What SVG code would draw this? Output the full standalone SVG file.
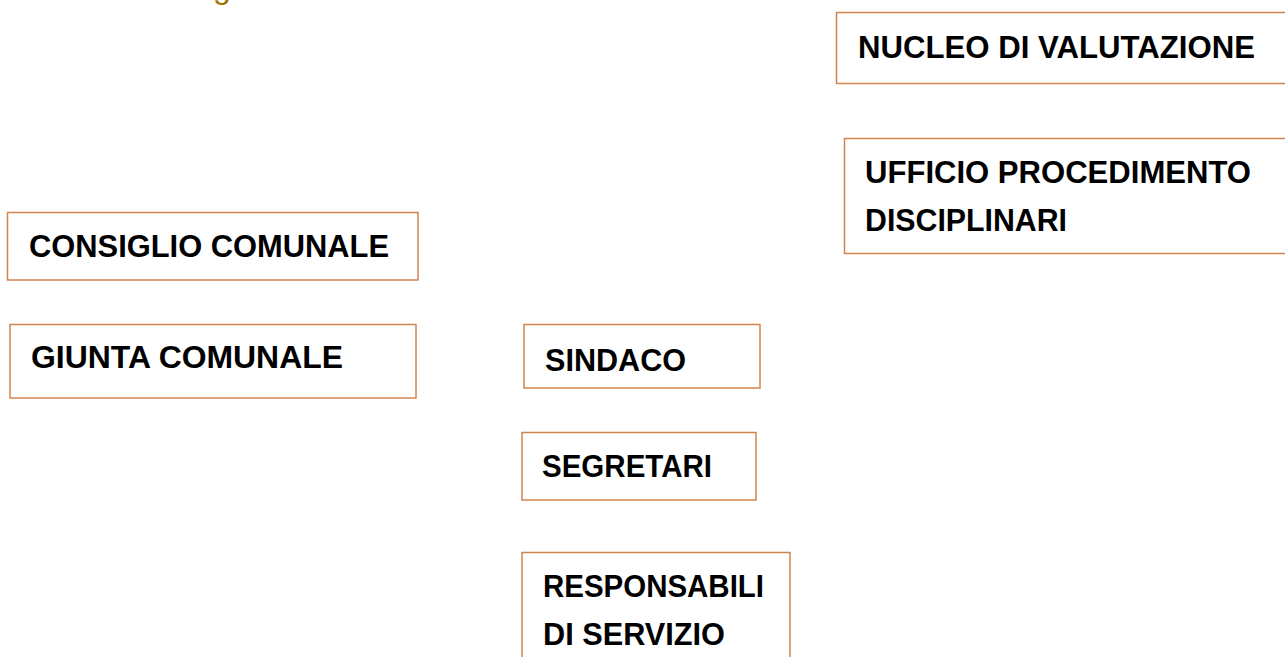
<svg xmlns="http://www.w3.org/2000/svg" width="1285" height="657" viewBox="0 0 1285 657">
<style>
.box{fill:#ffffff;stroke:#D4844F;stroke-width:1.5}
.t{font-family:"Liberation Sans",Arial,sans-serif;font-weight:bold;font-size:31px;fill:#000000}
.h{font-family:"Liberation Sans",Arial,sans-serif;font-size:32px;fill:#9C7000}
</style>
<rect width="1285" height="657" fill="#ffffff"/>
<text class="h" x="213" y="-2">g</text>
<g id="nucleo">
<rect class="box" x="836.5" y="12.5" width="460" height="71"/>
<text class="t" x="858" y="58" textLength="397" lengthAdjust="spacingAndGlyphs">NUCLEO DI VALUTAZIONE</text>
</g>
<g id="ufficio">
<rect class="box" x="844.5" y="138.5" width="460" height="115"/>
<text class="t" x="865" y="183" textLength="386" lengthAdjust="spacingAndGlyphs">UFFICIO PROCEDIMENTO</text>
<text class="t" x="865" y="231" textLength="202" lengthAdjust="spacingAndGlyphs">DISCIPLINARI</text>
</g>
<g id="consiglio">
<rect class="box" x="7.5" y="212.5" width="410.5" height="67.5"/>
<text class="t" x="29" y="257" textLength="360" lengthAdjust="spacingAndGlyphs">CONSIGLIO COMUNALE</text>
</g>
<g id="giunta">
<rect class="box" x="10" y="324.5" width="406" height="73.5"/>
<text class="t" x="31" y="368" textLength="312" lengthAdjust="spacingAndGlyphs">GIUNTA COMUNALE</text>
</g>
<g id="sindaco">
<rect class="box" x="524" y="324.5" width="236" height="63.5"/>
<text class="t" x="545" y="371" textLength="141" lengthAdjust="spacingAndGlyphs">SINDACO</text>
</g>
<g id="segretari">
<rect class="box" x="522" y="432.5" width="234" height="67.5"/>
<text class="t" x="542" y="477" textLength="170" lengthAdjust="spacingAndGlyphs">SEGRETARI</text>
</g>
<g id="responsabili">
<rect class="box" x="522" y="552.5" width="268" height="120"/>
<text class="t" x="543" y="597" textLength="221" lengthAdjust="spacingAndGlyphs">RESPONSABILI</text>
<text class="t" x="543" y="645" textLength="182" lengthAdjust="spacingAndGlyphs">DI SERVIZIO</text>
</g>
<g id="connectors"></g>
</svg>
